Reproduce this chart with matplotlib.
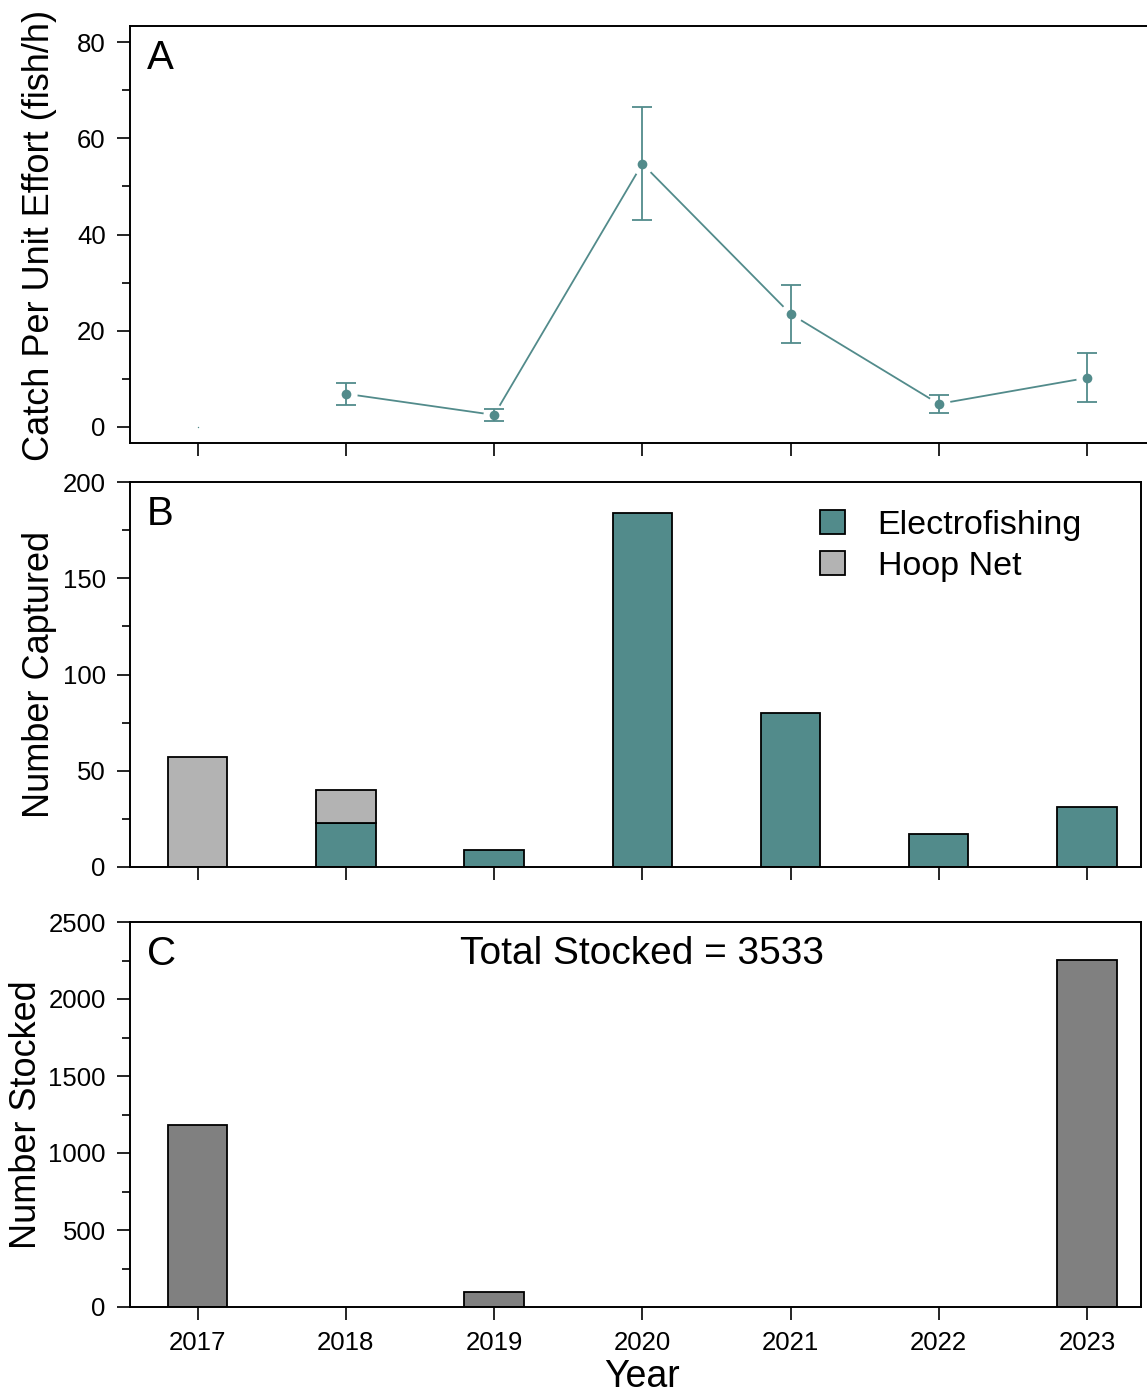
import matplotlib
matplotlib.use("Agg")
import matplotlib.pyplot as plt
from matplotlib.patches import Patch
from matplotlib.ticker import MultipleLocator
from matplotlib.transforms import blended_transform_factory
import numpy as np

plt.rcParams['font.family'] = ['Liberation Sans', 'DejaVu Sans']

# ---- data ----
years = [2017, 2018, 2019, 2020, 2021, 2022, 2023]
year_labels = ["2017", "2018", "2019", "2020", "2021", "2022", "2023"]
cpue = [0.0, 6.9, 2.5, 54.7, 23.5, 4.8, 10.2]
cpue_se = [0.0, 2.3, 1.3, 11.7, 6.0, 1.8, 5.1]
electrofishing = [0, 23, 9, 184, 80, 17, 31]
hoop_net = [57, 17, 0, 0, 0, 0, 0]
stocked = [1182, 0, 100, 0, 0, 0, 2251]
total_stocked = 3533

teal = "#528B8B"
hoop_grey = "#B3B3B3"
stock_grey = "#808080"

W, H = 1147, 1395
fig = plt.figure(figsize=(W / 100, H / 100), dpi=100)


def px_axes(left, top, right, bottom):
    return fig.add_axes([left / W, 1 - bottom / H, (right - left) / W, (bottom - top) / H])


axA = px_axes(130, 26, 1150, 443)
axB = px_axes(130, 482, 1141, 867)
axC = px_axes(130, 922, 1141, 1307)

x0 = 2016.543
ppy = 148.2  # pixels per year
for ax, right in ((axA, 1150), (axB, 1141), (axC, 1141)):
    ax.set_xlim(x0, x0 + (right - 130) / ppy)
    for s in ax.spines.values():
        s.set_linewidth(1.4)
    ax.set_xticks(years)
    ax.tick_params(axis='both', which='major', direction='out', length=9.4, width=1.2,
                   labelsize=18.5, pad=8, top=False, right=False)
    ax.tick_params(axis='y', which='minor', direction='out', length=5.8, width=1.2, right=False)
    ax.tick_params(axis='x', which='minor', bottom=False, top=False)

# ---- panel A: CPUE ----
yrs = np.array(years)
cp = np.array(cpue)
se = np.array(cpue_se)
m = cp > 0
axA.plot(yrs[m], cp[m], color=teal, lw=1.3, zorder=1)
axA.plot(yrs[m], cp[m], 'o', color='white', ms=16, mew=0, zorder=2)
axA.errorbar(yrs[m], cp[m], yerr=se[m], fmt='none', ecolor=teal, elinewidth=1.3,
             capsize=7, capthick=1.3, zorder=3)
axA.plot(yrs[m], cp[m], 'o', color=teal, ms=7, mew=0, zorder=4)
axA.plot(yrs[~m], cp[~m], 'o', color=teal, ms=1, mew=0, zorder=4)
axA.set_ylim(-3.33, 83.33)
axA.yaxis.set_major_locator(MultipleLocator(20))
axA.yaxis.set_minor_locator(MultipleLocator(10))
axA.set_xticklabels([])
axA.text(17 / 1020, 0.968, "A", transform=axA.transAxes, fontsize=29, va='top', ha='left')

# ---- panel B: number captured ----
el = np.array(electrofishing)
hn = np.array(hoop_net)
me = el > 0
axB.bar(yrs[me], el[me], width=0.4, color=teal, edgecolor='black', lw=1.3, zorder=2)
mh = hn > 0
axB.bar(yrs[mh], hn[mh], width=0.4, bottom=el[mh], color=hoop_grey, edgecolor='black',
        lw=1.3, zorder=2)
axB.set_ylim(0, 200)
axB.yaxis.set_major_locator(MultipleLocator(50))
axB.yaxis.set_minor_locator(MultipleLocator(25))
axB.set_xticklabels([])
axB.text(17 / 1011, 0.965, "B", transform=axB.transAxes, fontsize=29, va='top', ha='left')
handles = [Patch(facecolor=teal, edgecolor='black', lw=1.3, label="Electrofishing"),
           Patch(facecolor=hoop_grey, edgecolor='black', lw=1.3, label="Hoop Net")]
axB.legend(handles=handles, loc='upper left', bbox_to_anchor=(820 / W, 1 - 510 / H),
           bbox_transform=fig.transFigure, frameon=False, fontsize=24.5, borderpad=0,
           borderaxespad=0, handlelength=0.74, handleheight=0.7, handletextpad=0.95,
           labelspacing=0.28)

# ---- panel C: number stocked ----
st = np.array(stocked)
ms_ = st > 0
axC.bar(yrs[ms_], st[ms_], width=0.4, color=stock_grey, edgecolor='black', lw=1.3, zorder=2)
axC.set_ylim(0, 2500)
axC.yaxis.set_major_locator(MultipleLocator(500))
axC.yaxis.set_minor_locator(MultipleLocator(250))
axC.set_xticklabels(year_labels)
axC.text(17 / 1011, 0.965, "C", transform=axC.transAxes, fontsize=29, va='top', ha='left')
axC.text(2020, 1 - 954 / H, f"Total Stocked = {total_stocked}", fontsize=28, ha='center',
         va='center', transform=blended_transform_factory(axC.transData, fig.transFigure))

# axis titles
fig.text(40 / W, 1 - 235 / H, "Catch Per Unit Effort (fish/h)", rotation=90,
         fontsize=26, ha='center', va='center')
fig.text(40 / W, 1 - 675 / H, "Number Captured", rotation=90,
         fontsize=26, ha='center', va='center')
fig.text(27 / W, 1 - 1115 / H, "Number Stocked", rotation=90,
         fontsize=26, ha='center', va='center')
fig.text(642 / W, 1 - 1377 / H, "Year", fontsize=27, ha='center', va='center')

fig.savefig("out.png", dpi=100)
